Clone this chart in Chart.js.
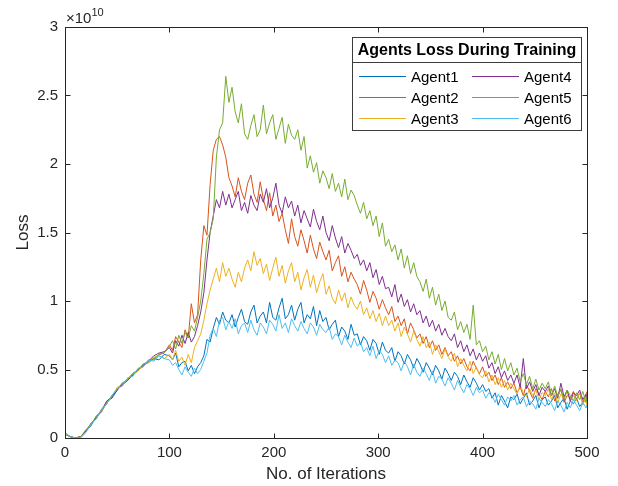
<!DOCTYPE html>
<html>
<head>
<meta charset="utf-8">
<script src="https://cdn.jsdelivr.net/npm/chart.js@4.4.1/dist/chart.umd.min.js"></script>
<style>
  html, body { margin: 0; padding: 0; background: #fff; }
  #wrap { width: 618px; height: 486px; }
</style>
</head>
<body>
<div id="wrap"><canvas id="lossChart" width="618" height="486"></canvas></div>
<script>
// iteration grid: every 5 up to 95, then every 3 from 100, plus the last one
const iterations = [];
for (let i = 0; i < 100; i += 5) iterations.push(i);
for (let i = 100; i < 500; i += 3) iterations.push(i);
iterations.push(500);

const agentNames = ['Agent1', 'Agent2', 'Agent3', 'Agent4', 'Agent5', 'Agent6'];
const agentColors = ['#0072BD', '#D95319', '#EDB120', '#7E2F8E', '#77AC30', '#4DBEEE'];
const yTicks = [0, 0.5, 1, 1.5, 2, 2.5, 3];
const xTicks = [0, 100, 200, 300, 400, 500];

// loss values, in units of 1e10
const agent1 = [
  0.03,0.01,0.00,0.01,0.05,0.09,0.16,0.19,0.27,0.29,0.35,0.40,0.42,0.47,0.49,0.54,0.55,0.58,0.57,0.61,
  0.60,0.57,0.62,0.52,0.55,0.56,0.49,0.53,0.47,0.52,
  0.55,0.60,0.72,0.70,0.80,0.88,0.83,0.92,0.86,0.84,
  0.90,0.81,0.88,0.94,0.85,0.83,0.92,0.97,0.84,0.89,
  0.92,0.84,0.99,0.88,0.86,0.95,1.02,0.87,0.90,0.97,
  0.86,0.94,0.99,0.84,0.90,0.87,0.96,0.82,0.93,0.85,
  0.88,0.79,0.83,0.86,0.74,0.81,0.78,0.72,0.83,0.75,
  0.76,0.68,0.74,0.71,0.64,0.72,0.69,0.61,0.70,0.64,
  0.62,0.66,0.56,0.63,0.60,0.54,0.61,0.57,0.51,0.58,
  0.54,0.48,0.55,0.51,0.46,0.53,0.49,0.43,0.51,0.47,
  0.42,0.48,0.45,0.39,0.46,0.41,0.37,0.44,0.40,0.35,
  0.39,0.34,0.36,0.29,0.33,0.24,0.31,0.27,0.22,0.30,
  0.28,0.32,0.25,0.29,0.33,0.24,0.27,0.31,0.22,0.28,
  0.30,0.24,0.27,0.31,0.22,0.26,0.29,0.21,0.27,0.25,
  0.29,0.23,0.26,0.28,0.25
];
const agent2 = [
  0.03,0.01,0.00,0.01,0.05,0.11,0.14,0.21,0.25,0.31,0.35,0.40,0.43,0.47,0.50,0.52,0.57,0.57,0.61,0.62,
  0.68,0.64,0.74,0.70,0.66,0.79,0.73,0.98,0.84,0.90,
  1.30,1.55,1.48,1.85,2.10,2.18,2.20,2.14,2.05,1.90,
  1.84,1.76,1.90,1.80,1.74,1.86,1.92,1.78,1.72,1.87,
  1.74,1.66,1.79,1.62,1.70,1.58,1.64,1.52,1.42,1.60,
  1.47,1.40,1.52,1.44,1.35,1.48,1.38,1.31,1.43,1.36,
  1.30,1.37,1.22,1.28,1.33,1.18,1.25,1.14,1.21,1.16,
  1.12,1.05,1.15,1.08,0.99,1.07,1.02,0.94,1.01,0.95,
  0.90,0.96,0.85,0.89,0.82,0.87,0.76,0.84,0.79,0.73,
  0.76,0.69,0.74,0.66,0.71,0.64,0.68,0.61,0.66,0.60,
  0.63,0.56,0.60,0.54,0.58,0.52,0.49,0.56,0.51,0.47,
  0.52,0.45,0.48,0.42,0.46,0.39,0.44,0.37,0.41,0.36,
  0.40,0.33,0.37,0.31,0.39,0.34,0.29,0.36,0.32,0.28,
  0.34,0.30,0.36,0.27,0.32,0.35,0.26,0.31,0.29,0.34,
  0.28,0.33,0.26,0.31,0.34
];
const agent3 = [
  0.03,0.01,0.00,0.01,0.05,0.10,0.15,0.19,0.26,0.30,0.37,0.38,0.43,0.46,0.49,0.53,0.55,0.59,0.60,0.58,
  0.61,0.57,0.64,0.56,0.59,0.53,0.61,0.55,0.66,0.71,
  0.76,0.86,0.98,1.08,1.16,1.24,1.14,1.28,1.18,1.24,
  1.16,1.10,1.21,1.14,1.24,1.30,1.22,1.36,1.26,1.31,
  1.20,1.27,1.15,1.24,1.32,1.18,1.26,1.13,1.22,1.28,
  1.14,1.21,1.08,1.17,1.23,1.10,1.19,1.06,1.14,1.20,
  1.05,1.11,1.02,0.98,1.08,1.00,1.06,0.95,1.03,0.97,
  0.94,1.00,0.90,0.95,0.87,0.93,0.85,0.91,0.82,0.89,
  0.82,0.86,0.78,0.84,0.74,0.81,0.76,0.70,0.78,0.72,
  0.67,0.74,0.66,0.70,0.61,0.68,0.63,0.58,0.65,0.59,
  0.56,0.62,0.52,0.58,0.53,0.49,0.56,0.47,0.52,0.46,
  0.44,0.49,0.41,0.46,0.39,0.44,0.37,0.42,0.35,0.40,
  0.36,0.32,0.39,0.33,0.30,0.36,0.31,0.35,0.28,0.33,
  0.31,0.36,0.28,0.33,0.26,0.32,0.29,0.34,0.27,0.31,
  0.27,0.33,0.24,0.30,0.22
];
const agent4 = [
  0.03,0.01,0.00,0.01,0.05,0.10,0.15,0.20,0.27,0.30,0.35,0.39,0.42,0.46,0.50,0.53,0.56,0.60,0.62,0.63,
  0.66,0.62,0.71,0.67,0.75,0.69,0.77,0.70,0.74,0.82,
  0.92,1.06,1.30,1.50,1.62,1.74,1.68,1.80,1.70,1.78,
  1.68,1.74,1.80,1.66,1.72,1.64,1.77,1.70,1.66,1.78,
  1.72,1.82,1.68,1.75,1.86,1.70,1.64,1.76,1.68,1.73,
  1.62,1.70,1.57,1.66,1.60,1.54,1.67,1.58,1.52,1.62,
  1.50,1.44,1.55,1.46,1.39,1.47,1.35,1.42,1.37,1.31,
  1.34,1.26,1.30,1.22,1.28,1.17,1.23,1.12,1.18,1.09,
  1.10,1.03,1.12,0.99,1.05,0.96,1.01,0.92,0.98,0.90,
  0.93,0.84,0.89,0.81,0.86,0.78,0.83,0.75,0.80,0.74,
  0.71,0.76,0.66,0.71,0.63,0.68,0.60,0.65,0.57,0.62,
  0.56,0.60,0.51,0.55,0.47,0.52,0.44,0.49,0.42,0.46,
  0.40,0.46,0.37,0.58,0.36,0.41,0.34,0.39,0.31,0.37,
  0.34,0.38,0.31,0.36,0.29,0.40,0.30,0.35,0.27,0.33,
  0.31,0.35,0.28,0.32,0.27
];
const agent5 = [
  0.03,0.01,0.00,0.01,0.06,0.10,0.16,0.20,0.25,0.31,0.36,0.40,0.43,0.47,0.50,0.54,0.56,0.58,0.61,0.62,
  0.67,0.71,0.65,0.75,0.69,0.77,0.73,0.82,0.78,0.88,
  1.00,1.20,1.45,1.50,1.60,2.05,2.25,2.30,2.64,2.45,
  2.56,2.38,2.30,2.44,2.22,2.18,2.28,2.36,2.20,2.25,
  2.43,2.22,2.30,2.36,2.18,2.26,2.34,2.15,2.29,2.21,
  2.18,2.25,2.10,2.20,1.97,2.06,1.94,2.01,1.86,1.95,
  1.90,1.82,1.93,1.80,1.86,1.76,1.89,1.74,1.81,1.77,
  1.70,1.64,1.72,1.60,1.66,1.55,1.62,1.47,1.57,1.40,
  1.45,1.36,1.41,1.30,1.38,1.24,1.33,1.20,1.28,1.18,
  1.14,1.07,1.16,1.02,1.10,0.97,1.05,0.93,1.00,0.88,
  0.86,0.92,0.79,0.85,0.77,0.83,0.72,0.97,0.68,0.71,
  0.63,0.67,0.57,0.63,0.54,0.61,0.50,0.58,0.49,0.55,
  0.46,0.51,0.41,0.47,0.39,0.45,0.36,0.43,0.35,0.40,
  0.36,0.41,0.31,0.38,0.30,0.36,0.28,0.35,0.31,0.27,
  0.33,0.28,0.34,0.26,0.30
];
const agent6 = [
  0.04,0.01,0.00,0.00,0.04,0.10,0.14,0.21,0.25,0.31,0.36,0.38,0.44,0.45,0.51,0.52,0.57,0.56,0.60,0.58,
  0.57,0.53,0.55,0.50,0.46,0.52,0.48,0.45,0.51,0.47,
  0.50,0.56,0.62,0.75,0.80,0.74,0.86,0.88,0.79,0.85,
  0.80,0.87,0.76,0.82,0.84,0.77,0.86,0.79,0.75,0.84,
  0.81,0.76,0.86,0.83,0.78,0.90,0.80,0.84,0.77,0.87,
  0.82,0.78,0.85,0.80,0.76,0.84,0.81,0.75,0.83,0.79,
  0.77,0.81,0.72,0.76,0.74,0.68,0.75,0.70,0.66,0.73,
  0.67,0.70,0.63,0.66,0.60,0.67,0.58,0.64,0.61,0.55,
  0.60,0.53,0.57,0.55,0.49,0.56,0.52,0.46,0.54,0.48,
  0.45,0.51,0.47,0.42,0.49,0.40,0.45,0.43,0.38,0.44,
  0.40,0.35,0.42,0.37,0.33,0.39,0.36,0.31,0.37,0.33,
  0.35,0.29,0.33,0.31,0.26,0.32,0.28,0.24,0.30,0.27,
  0.31,0.24,0.28,0.30,0.23,0.27,0.25,0.21,0.29,0.26,
  0.23,0.28,0.25,0.20,0.27,0.24,0.19,0.26,0.22,0.28,
  0.24,0.20,0.26,0.22,0.24
];
const agentData = [agent1, agent2, agent3, agent4, agent5, agent6];

const axisColor = '#262626';
const fontFamily = '"Liberation Sans", Arial, Helvetica, sans-serif';

// MATLAB-like box with inward ticks, exponent label and titled legend
const matlabBox = {
  id: 'matlabBox',
  afterDraw(chart) {
    const { ctx, chartArea: a, scales } = chart;
    const L = Math.round(a.left) + 0.5, R = Math.round(a.right) + 0.5;
    const T = Math.round(a.top) + 0.5, B = Math.round(a.bottom) + 0.5;
    ctx.save();
    ctx.strokeStyle = axisColor;
    ctx.lineWidth = 1;
    ctx.strokeRect(L, T, R - L, B - T);
    const tk = 5;
    ctx.beginPath();
    xTicks.forEach(v => {
      const x = Math.round(scales.x.getPixelForValue(v)) + 0.5;
      ctx.moveTo(x, B); ctx.lineTo(x, B - tk);
      ctx.moveTo(x, T); ctx.lineTo(x, T + tk);
    });
    yTicks.forEach(v => {
      const y = Math.round(scales.y.getPixelForValue(v)) + 0.5;
      ctx.moveTo(L, y); ctx.lineTo(L + tk, y);
      ctx.moveTo(R, y); ctx.lineTo(R - tk, y);
    });
    ctx.stroke();

    // exponent
    ctx.fillStyle = axisColor;
    ctx.textBaseline = 'alphabetic';
    ctx.textAlign = 'left';
    ctx.font = '15px ' + fontFamily;
    ctx.fillText('\u00d710', 66, 23);
    const w = ctx.measureText('\u00d710').width;
    ctx.font = '11px ' + fontFamily;
    ctx.fillText('10', 66 + w, 16);

    // legend
    const lx = 352.5, ly = 37.5, lw = 229, lh = 93;
    ctx.fillStyle = '#ffffff';
    ctx.fillRect(lx, ly, lw, lh);
    ctx.strokeStyle = '#3c3c3c';
    ctx.strokeRect(lx, ly, lw, lh);
    ctx.beginPath();
    ctx.moveTo(lx, 62.5); ctx.lineTo(lx + lw, 62.5);
    ctx.stroke();
    ctx.fillStyle = '#000';
    ctx.textAlign = 'center';
    ctx.textBaseline = 'middle';
    ctx.font = 'bold 16px ' + fontFamily;
    ctx.fillText('Agents Loss During Training', lx + lw / 2, 50.5);
    ctx.font = '15px ' + fontFamily;
    ctx.textAlign = 'left';
    const rows = [76, 97, 118];
    agentNames.forEach((name, i) => {
      const col = Math.floor(i / 3), row = i % 3;
      const x0 = col === 0 ? 359 : 472;
      const y = rows[row] + 0.5;
      ctx.strokeStyle = agentColors[i];
      ctx.lineWidth = 1;
      ctx.beginPath();
      ctx.moveTo(x0, y); ctx.lineTo(x0 + 47, y);
      ctx.stroke();
      ctx.fillStyle = '#000';
      ctx.fillText(name, x0 + 52, y + 1);
    });
    ctx.restore();
  }
};

const datasets = agentNames.map((name, i) => ({
  label: name,
  data: agentData[i],
  borderColor: agentColors[i],
  backgroundColor: agentColors[i],
  borderWidth: 1,
  pointRadius: 0,
  tension: 0,
  fill: false,
  order: agentNames.length - i
}));

const ctx = document.getElementById('lossChart').getContext('2d');
const lossChart = new Chart(ctx, {
  type: 'line',
  data: { labels: iterations, datasets: datasets },
  options: {
    responsive: false,
    animation: false,
    events: [],
    layout: { padding: { left: 0, right: 31, top: 27, bottom: 0 } },
    plugins: { legend: { display: false }, tooltip: { enabled: false } },
    scales: {
      x: {
        type: 'linear',
        min: 0, max: 500,
        afterFit: s => { s.height = 48; },
        afterBuildTicks: s => { s.ticks = xTicks.map(v => ({ value: v })); },
        grid: { display: false, drawTicks: false },
        border: { display: false },
        ticks: { color: axisColor, padding: 6, font: { family: fontFamily, size: 15 } },
        title: { display: true, text: 'No. of Iterations', color: axisColor,
                 font: { family: fontFamily, size: 17 }, padding: { top: 0, bottom: 1 } }
      },
      y: {
        type: 'linear',
        min: 0, max: 3,
        afterFit: s => { s.width = 65; },
        afterBuildTicks: s => { s.ticks = yTicks.map(v => ({ value: v })); },
        grid: { display: false, drawTicks: false },
        border: { display: false },
        ticks: { color: axisColor, padding: 7, font: { family: fontFamily, size: 15 },
                 callback: v => String(v) },
        title: { display: true, text: 'Loss', color: axisColor,
                 font: { family: fontFamily, size: 17 }, padding: { top: 13, bottom: 0 } }
      }
    }
  },
  plugins: [matlabBox]
});
</script>
</body>
</html>
